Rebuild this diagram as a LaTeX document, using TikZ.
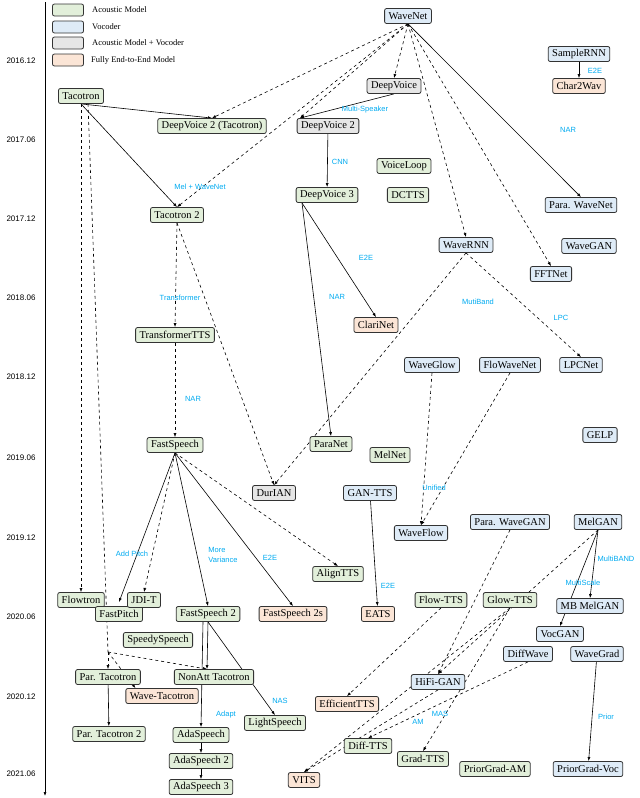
\documentclass[tikz,border=0pt]{standalone}
\usepackage{fontspec}
\setmainfont{Liberation Serif}
\newfontfamily\lblfont{Liberation Sans}
\usetikzlibrary{arrows.meta,backgrounds}
\definecolor{amcol}{RGB}{226,239,218}
\definecolor{voccol}{RGB}{222,235,247}
\definecolor{amvcol}{RGB}{230,230,230}
\definecolor{etecol}{RGB}{251,229,214}
\definecolor{lblcol}{RGB}{0,170,240}

\begin{document}
\begin{tikzpicture}[
  x=1pt, y=-1pt,
  box/.style={draw=black!80, thick, rounded corners=2pt, inner xsep=4pt,
    inner ysep=0pt, minimum height=15pt, font={\fontsize{10.5}{12}\selectfont}},
  am/.style={box, fill=amcol},
  voc/.style={box, fill=voccol},
  amv/.style={box, fill=amvcol},
  ete/.style={box, fill=etecol},
  lbl/.style={text=lblcol, font={\lblfont\fontsize{7.5}{8.5}\selectfont}, inner sep=0pt},
  date/.style={font={\lblfont\fontsize{8}{9}\selectfont}, inner sep=0pt},
  lgd/.style={draw=black!80, thick, rounded corners=2pt, minimum width=31pt, minimum height=12pt},
  lgtext/.style={anchor=west, font={\fontsize{8.5}{10}\selectfont}, inner sep=0pt},
  link/.style={-{Latex[length=4pt,width=3pt]}, semithick},
  dep/.style={link, dashed},
  ]
  \useasboundingbox (0,0) rectangle (640,798);

  % time axis
  \draw[-{Latex[length=4pt,width=3pt]}, semithick] (45,2) -- (45,796);
  \foreach \d/\y in {2016.12/61, 2017.06/140, 2017.12/219, 2018.06/298, 2018.12/377,
                     2019.06/458, 2019.12/538, 2020.06/617, 2020.12/697, 2021.06/774} {
    \node[date] at (21,\y) {\d};
  }

  % legend
  \node[lgd, fill=amcol]  (lgam)  at (68,10) {};
  \node[lgd, fill=voccol] (lgvoc) at (68,27) {};
  \node[lgd, fill=amvcol] (lgamv) at (68,43) {};
  \node[lgd, fill=etecol] (lgete) at (68,60) {};
  \node[lgtext] at (92,10) {Acoustic Model};
  \node[lgtext] at (92,27) {Vocoder};
  \node[lgtext] at (92,43) {Acoustic Model + Vocoder};
  \node[lgtext] at (91,60) {Fully End-to-End Model};

  % models
  \node[voc] (WaveNet)    at (408,16)  {WaveNet};
  \node[voc] (SampleRNN)  at (579,54)  {SampleRNN};
  \node[ete] (Char2Wav)   at (579,86)  {Char2Wav};
  \node[amv] (DV)         at (394,86)  {DeepVoice};
  \node[am]  (Tacotron)   at (81,96)   {Tacotron};
  \node[am]  (DV2T)       at (212,126) {DeepVoice 2 (Tacotron)};
  \node[amv] (DV2)        at (328,126) {DeepVoice 2};
  \node[am]  (VoiceLoop)  at (404,166) {VoiceLoop};
  \node[am]  (DV3)        at (327,195) {DeepVoice 3};
  \node[am]  (DCTTS)      at (408,195) {DCTTS};
  \node[voc] (ParaWN)     at (581,205) {Para. WaveNet};
  \node[am]  (Taco2)      at (177,215) {Tacotron 2};
  \node[voc] (WaveRNN)    at (466,245) {WaveRNN};
  \node[voc] (WaveGAN)    at (589,246) {WaveGAN};
  \node[voc] (FFTNet)     at (551,274) {FFTNet};
  \node[ete] (ClariNet)   at (376,325) {ClariNet};
  \node[am]  (TransTTS)   at (175,335) {TransformerTTS};
  \node[voc] (WaveGlow)   at (432,365) {WaveGlow};
  \node[voc] (FloWaveNet) at (510,365) {FloWaveNet};
  \node[voc] (LPCNet)     at (581,365) {LPCNet};
  \node[voc] (GELP)       at (600,435) {GELP};
  \node[am]  (FastSpeech) at (175,445) {FastSpeech};
  \node[am]  (ParaNet)    at (331,444) {ParaNet};
  \node[am]  (MelNet)     at (390,455) {MelNet};
  \node[amv] (DurIAN)     at (274,493) {DurIAN};
  \node[voc] (GANTTS)     at (370,493) {GAN-TTS};
  \node[voc] (WaveFlow)   at (421,533) {WaveFlow};
  \node[voc] (ParaWG)     at (510,522) {Para. WaveGAN};
  \node[voc] (MelGAN)     at (598,522) {MelGAN};
  \node[am]  (AlignTTS)   at (338,574) {AlignTTS};
  \node[am]  (Flowtron)   at (81,600)  {Flowtron};
  \node[am]  (FastPitch)  at (119,614) {FastPitch};
  \node[am]  (JDIT)       at (144,600) {JDI-T};
  \node[am]  (FS2)        at (208,614) {FastSpeech 2};
  \node[ete] (FS2s)       at (293,614) {FastSpeech 2s};
  \node[ete] (EATS)       at (378,614) {EATS};
  \node[am]  (FlowTTS)    at (441,600) {Flow-TTS};
  \node[am]  (GlowTTS)    at (510,600) {Glow-TTS};
  \node[voc] (MBMelGAN)   at (590,606) {MB MelGAN};
  \node[am]  (Speedy)     at (158,640) {SpeedySpeech};
  \node[voc] (VocGAN)     at (560,634) {VocGAN};
  \node[voc] (DiffWave)   at (528,654) {DiffWave};
  \node[voc] (WaveGrad)   at (597,654) {WaveGrad};
  \node[am]  (ParTaco)    at (108,677) {Par. Tacotron};
  \node[am]  (NonAtt)     at (214,677) {NonAtt Tacotron};
  \node[ete] (WaveTaco)   at (162,696) {Wave-Tacotron};
  \node[voc] (HiFiGAN)    at (438,682) {HiFi-GAN};
  \node[ete] (EffTTS)     at (347,704) {EfficientTTS};
  \node[am]  (LightSp)    at (275,723) {LightSpeech};
  \node[am]  (ParTaco2)   at (109,734) {Par. Tacotron 2};
  \node[am]  (Ada)        at (201,735) {AdaSpeech};
  \node[am]  (DiffTTS)    at (368,746) {Diff-TTS};
  \node[am]  (GradTTS)    at (423,759) {Grad-TTS};
  \node[am]  (Ada2)       at (201,761) {AdaSpeech 2};
  \node[am]  (PGAM)       at (495,769) {PriorGrad-AM};
  \node[voc] (PGVoc)      at (588,769) {PriorGrad-Voc};
  \node[ete] (VITS)       at (304,780) {VITS};
  \node[am]  (Ada3)       at (201,787) {AdaSpeech 3};

  \coordinate (hub) at (108,652);

  % connections
  \begin{scope}[on background layer]
    \draw[dep] (WaveNet.south) -- (DV2T.north);
    \draw[dep] (WaveNet.south) -- ([xshift=-28pt]DV2.north);
    \draw[dep] (WaveNet.south) -- (Taco2.north);
    \draw[dep] (WaveNet.south) -- (DV.north);
    \draw[dep] (WaveNet.south) -- (WaveRNN.north);
    \draw[dep] (WaveNet.south) -- (FFTNet.north);
    \draw[link] (WaveNet.south) -- (ParaWN.north);
    \draw[link] (SampleRNN) -- (Char2Wav);
    \draw[link] (DV.south) -- ([xshift=-28pt]DV2.north);
    \draw[link] (DV2) -- (DV3);
    \draw[link] (Tacotron.south) -- (DV2T.north);
    \draw[link] (Tacotron.south) -- (Taco2.north);
    \draw[dep] (Tacotron.south) -- (Flowtron.north);
    \draw[dashed, semithick] ([xshift=7pt]Tacotron.south) -- (hub);
    \draw[dep] (hub) -- (ParTaco.north);
    \draw[dep] (hub) -- ([xshift=-7pt]NonAtt.north);
    \draw[dep] (hub) -- ([xshift=10pt]WaveTaco.north west);
    \draw[dep] (Taco2.south) -- (TransTTS.north);
    \draw[dep] (Taco2.south) -- (DurIAN.north);
    \draw[dep] (TransTTS.south) -- (FastSpeech.north);
    \draw[link] ([xshift=-25pt]DV3.south) -- (ParaNet.north);
    \draw[link] ([xshift=-25pt]DV3.south) -- (ClariNet.north);
    \draw[dep] (WaveRNN.south) -- (DurIAN.north);
    \draw[dep] (WaveRNN.south) -- (LPCNet.north);
    \draw[dep] (WaveGlow.south) -- (WaveFlow.north);
    \draw[dep] (FloWaveNet.south) -- (WaveFlow.north);
    \draw[link] (GANTTS) -- (EATS);
    \draw[link] (FastSpeech.south) .. controls (150,520) .. ([yshift=4pt]FastPitch.north);
    \draw[dep] (FastSpeech.south) -- (JDIT.north);
    \draw[link] (FastSpeech.south) -- (FS2.north);
    \draw[link] (FastSpeech.south) -- (FS2s.north);
    \draw[dep] (FastSpeech.south) -- (AlignTTS.north);
    \draw[link] (FS2.south) -- ([xshift=-7pt]NonAtt.north);
    \draw[link] (FS2.south) -- (LightSp.north);
    \draw[link] ([xshift=-5pt]FS2.south) -- (Ada.north);
    \draw[link] (Ada) -- (Ada2);
    \draw[link] (Ada2) -- (Ada3);
    \draw[link] (ParTaco) -- (ParTaco2);
    \draw[link] (MelGAN.south) -- (MBMelGAN.north);
    \draw[link] (MelGAN.south) -- (VocGAN.north);
    \draw[dep] (MelGAN.south) -- (HiFiGAN.north);
    \draw[dep] (ParaWG.south) -- (HiFiGAN.north);
    \draw[dep] (FlowTTS.south) -- (EffTTS.north);
    \draw[dep] (GlowTTS.south) -- (GradTTS.north);
    \draw[dep] (GlowTTS.south) -- (VITS.north);
    \draw[dep] (HiFiGAN.south) -- (VITS.north);
    \draw[dep] (DiffWave.south) -- (DiffTTS.north);
    \draw[link] (WaveGrad) -- (PGVoc);
  \end{scope}

  % labels on connections
  \node[lbl] (lMS)   at (365,110) {Multi-Speaker};
  \node[lbl] (lCNN)  at (340,162) {CNN};
  \node[lbl] (lMW)   at (200,187) {Mel + WaveNet};
  \node[lbl] (lNAR1) at (568,130) {NAR};
  \node[lbl] (lE2E1) at (595,71)  {E2E};
  \node[lbl] (lE2E2) at (366,258) {E2E};
  \node[lbl] (lNAR2) at (337,297) {NAR};
  \node[lbl] (lTr)   at (180,298) {Transformer};
  \node[lbl] (lNAR3) at (193,399) {NAR};
  \node[lbl] (lMB)   at (478,302) {MutiBand};
  \node[lbl] (lLPC)  at (561,318) {LPC};
  \node[lbl] (lUni)  at (434,488) {Unified};
  \node[lbl] (lE2E3) at (388,586) {E2E};
  \node[lbl] (lAP)   at (132,554) {Add Pitch};
  \node[lbl, align=left] (lMV) at (223,555) {More\\[1pt]Variance};
  \node[lbl] (lE2E4) at (270,558) {E2E};
  \node[lbl] (lMBD)  at (616,559) {MultiBAND};
  \node[lbl] (lMSc)  at (583,583) {MultiScale};
  \node[lbl] (lNAS)  at (280,701) {NAS};
  \node[lbl] (lAd)   at (226,715) {Adapt};
  \node[lbl] (lAM)   at (418,722) {AM};
  \node[lbl] (lMAS)  at (440,714) {MAS};
  \node[lbl] (lPr)   at (606,717) {Prior};
\end{tikzpicture}
\end{document}
